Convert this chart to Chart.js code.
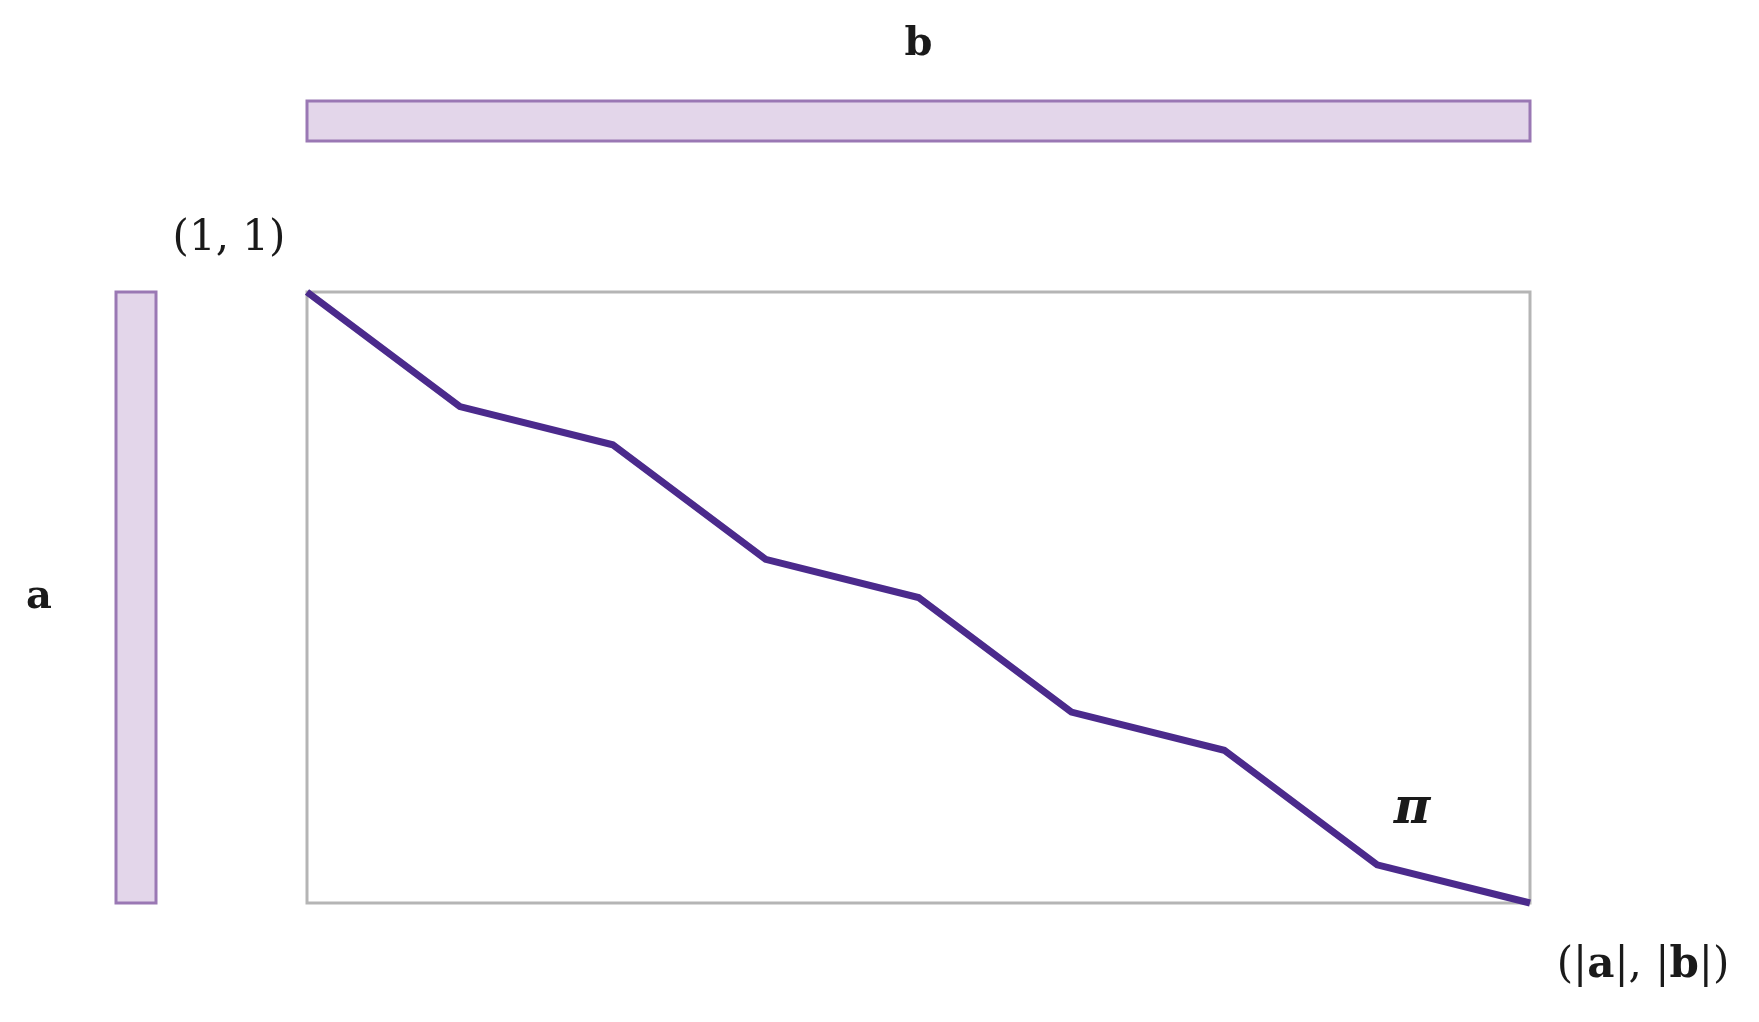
<!DOCTYPE html>
<html>
<head>
<meta charset="utf-8">
<script src="https://cdn.jsdelivr.net/npm/chart.js@4/dist/chart.umd.min.js"></script>
<style>
  html, body { margin: 0; padding: 0; background: #fff; }
  #wrap { width: 1759px; height: 1022px; }
</style>
</head>
<body>
<div id="wrap"><canvas id="dtw"></canvas></div>
<script>
// warping path: steps along b (x) and a (y)
const pathX = [0, 1, 2, 3, 4, 5, 6, 7, 8];
const pathY = [0, 3, 4, 7, 8, 11, 12, 15, 16];

const lineColor = '#4b2a8c';
const barFill = '#e3d6ea';
const barStroke = '#9a78b4';

const decor = {
  id: 'decor',
  beforeDatasetsDraw(chart) {
    const { ctx, chartArea: a } = chart;
    ctx.save();
    // frame
    ctx.strokeStyle = '#b5b5b5';
    ctx.lineWidth = 3;
    ctx.strokeRect(a.left, a.top, a.right - a.left, a.bottom - a.top);
    // sequence bars
    ctx.fillStyle = barFill;
    ctx.strokeStyle = barStroke;
    ctx.lineWidth = 3;
    ctx.fillRect(a.left, a.top - 191, a.right - a.left, 40);
    ctx.strokeRect(a.left, a.top - 191, a.right - a.left, 40);
    ctx.fillRect(a.left - 191, a.top, 40, a.bottom - a.top);
    ctx.strokeRect(a.left - 191, a.top, 40, a.bottom - a.top);
    ctx.restore();
  },
  afterDatasetsDraw(chart) {
    const { ctx, chartArea: a } = chart;
    ctx.save();
    ctx.fillStyle = '#1a1a1a';
    ctx.textAlign = 'center';
    ctx.textBaseline = 'middle';
    ctx.font = 'bold 40px "DejaVu Serif"';
    ctx.fillText('b', (a.left + a.right) / 2, 45);
    ctx.fillText('a', 39, 598);
    ctx.font = '42px "DejaVu Serif"';
    ctx.fillText('(1, 1)', 229, 239);
    ctx.font = 'italic bold 50px "DejaVu Serif"';
    ctx.fillText('π', 1412, 810);
    ctx.font = '42px "DejaVu Serif"';
    const parts = [['(|', false], ['a', true], ['|, |', false], ['b', true], ['|)', false]];
    let total = 0;
    parts.forEach(p => {
      ctx.font = (p[1] ? 'bold ' : '') + '42px "DejaVu Serif"';
      total += ctx.measureText(p[0]).width;
    });
    let x = 1643 - total / 2;
    ctx.textAlign = 'left';
    parts.forEach(p => {
      ctx.font = (p[1] ? 'bold ' : '') + '42px "DejaVu Serif"';
      ctx.fillText(p[0], x, 966);
      x += ctx.measureText(p[0]).width;
    });
    ctx.restore();
  }
};

new Chart(document.getElementById('dtw').getContext('2d'), {
  type: 'line',
  data: {
    datasets: [{
      data: pathX.map((x, i) => ({ x: x, y: pathY[i] })),
      borderColor: lineColor,
      borderWidth: 7,
      pointRadius: 0,
      tension: 0,
      clip: false
    }]
  },
  options: {
    responsive: true,
    maintainAspectRatio: false,
    animation: false,
    layout: { padding: { left: 307, right: 229, top: 292, bottom: 119 } },
    plugins: { legend: { display: false }, tooltip: { enabled: false } },
    scales: {
      x: { type: 'linear', min: 0, max: 8, display: false },
      y: { type: 'linear', min: 0, max: 16, reverse: true, display: false }
    }
  },
  plugins: [decor]
});
</script>
</body>
</html>
